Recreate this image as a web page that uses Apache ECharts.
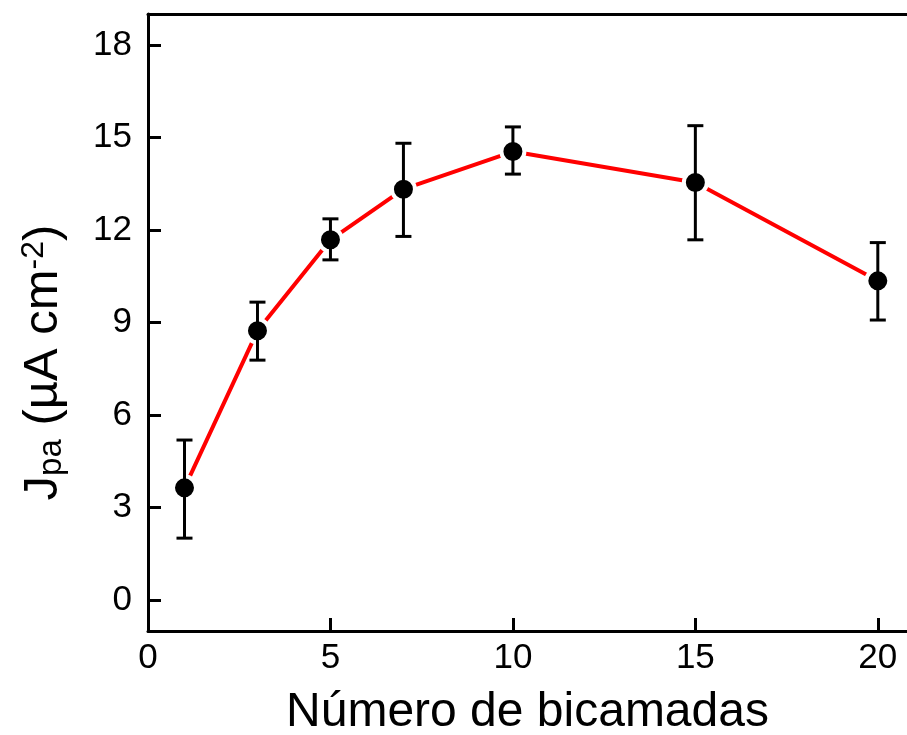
<!DOCTYPE html>
<html><head><meta charset="utf-8">
<script src="https://cdn.jsdelivr.net/npm/echarts@6/dist/echarts.min.js"></script>
<style>html,body{margin:0;padding:0;background:#fff}#c{width:907px;height:735px}</style>
</head><body><div id="c"></div>
<script>
var layers = [1, 3, 5, 7, 10, 15, 20];
var jpa = [3.64, 8.73, 11.68, 13.32, 14.54, 13.54, 10.35];
var errHigh = [5.19, 9.66, 12.36, 14.81, 15.34, 15.38, 11.59];
var errLow = [2.01, 7.78, 11.03, 11.79, 13.81, 11.68, 9.08];
var xTicks = [0, 5, 10, 15, 20];
var yTicks = [0, 3, 6, 9, 12, 15, 18];

var pts = layers.map(function (x, i) { return [x, jpa[i]]; });
var errData = layers.map(function (x, i) { return [x, errLow[i], errHigh[i]]; });

var chart = echarts.init(document.getElementById('c'), null, {renderer: 'canvas'});
var font = 'Liberation Sans, Arial, sans-serif';
chart.setOption({
  animation: false,
  backgroundColor: '#fff',
  grid: {left: 148, top: 14, right: 0, bottom: 104, outerBoundsMode: 'none', containLabel: false},
  xAxis: [{
    type: 'value', min: 0, max: 20.8,
    name: 'Número de bicamadas', nameLocation: 'middle', nameGap: 58,
    nameTextStyle: {fontFamily: font, fontSize: 48, color: '#000'},
    axisLine: {show: true, onZero: false, lineStyle: {color: '#000', width: 3}},
    axisTick: {show: true, inside: true, length: 13, customValues: xTicks, lineStyle: {color: '#000', width: 3}},
    axisLabel: {customValues: xTicks, margin: 10, fontFamily: font, fontSize: 35, color: '#000'},
    splitLine: {show: false}
  }, {
    type: 'value', min: 0, max: 20.8, position: 'top',
    axisLine: {show: true, onZero: false, lineStyle: {color: '#000', width: 3}},
    axisTick: {show: false}, axisLabel: {show: false}, splitLine: {show: false}
  }],
  yAxis: [{
    type: 'value', min: -1, max: 19,
    name: '{b|J}{s|pa}{b| (µA cm}{p|-2}{b|)}', nameLocation: 'middle', nameGap: 80, nameRotate: 90,
    nameTextStyle: {
      fontFamily: font, color: '#000', padding: [0, 80, 0, 0],
      rich: {
        b: {fontFamily: font, fontSize: 49, color: '#000', lineHeight: 50},
        s: {fontFamily: font, fontSize: 33, color: '#000', verticalAlign: 'bottom', padding: [20, 0, 0, 0], lineHeight: 50},
        p: {fontFamily: font, fontSize: 32, color: '#000', verticalAlign: 'top', padding: [0, 0, 22, 0], lineHeight: 50}
      }
    },
    axisLine: {show: true, onZero: false, lineStyle: {color: '#000', width: 3}},
    axisTick: {show: true, inside: true, length: 13, customValues: yTicks, lineStyle: {color: '#000', width: 3}},
    axisLabel: {customValues: yTicks, margin: 16, fontFamily: font, fontSize: 35, color: '#000'},
    splitLine: {show: false}
  }],
  series: [{
    type: 'line', data: pts, showSymbol: false, symbol: 'none',
    lineStyle: {color: '#ff0000', width: 4}, z: 2
  }, {
    type: 'scatter', data: pts, symbol: 'circle', symbolSize: 23,
    itemStyle: {color: '#000', borderColor: '#fff', borderWidth: 4, opacity: 1}, z: 3
  }, {
    type: 'custom', data: errData, z: 4,
    renderItem: function (params, api) {
      var x = api.value(0);
      var lo = api.coord([x, api.value(1)]);
      var hi = api.coord([x, api.value(2)]);
      var hw = 8;
      var st = {stroke: '#000', lineWidth: 3};
      return {type: 'group', children: [
        {type: 'line', shape: {x1: lo[0], y1: lo[1], x2: hi[0], y2: hi[1]}, style: st},
        {type: 'line', shape: {x1: lo[0] - hw, y1: lo[1], x2: lo[0] + hw, y2: lo[1]}, style: st},
        {type: 'line', shape: {x1: hi[0] - hw, y1: hi[1], x2: hi[0] + hw, y2: hi[1]}, style: st}
      ]};
    }
  }]
});
</script></body></html>
